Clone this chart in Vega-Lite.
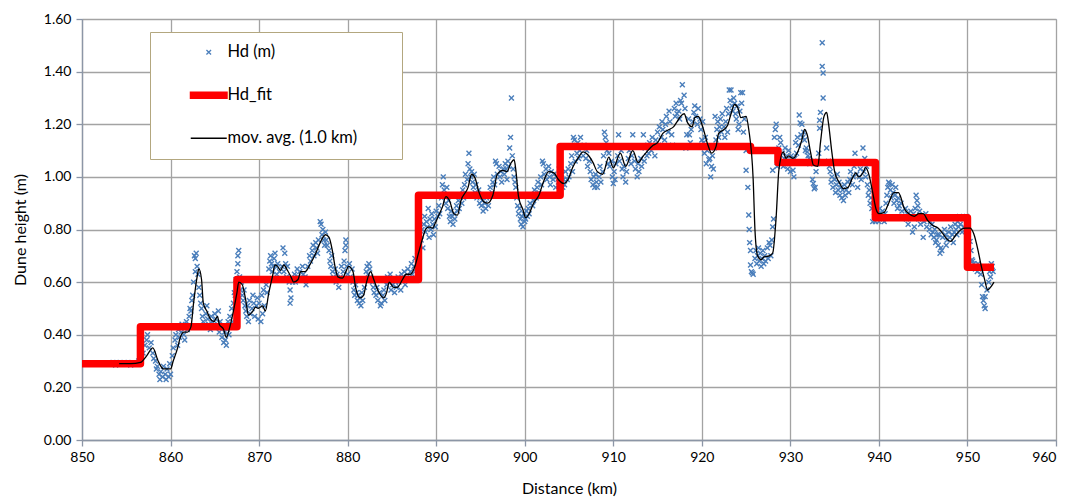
{
"$schema": "https://vega.github.io/schema/vega-lite/v6.json",
"width": 974, "height": 421,
"autosize": "none",
"padding": {"left": 82, "top": 19, "right": 16, "bottom": 59},
"background": "white",
"config": {
  "font": "Lato",
  "view": {"stroke": "#8ea9d6", "strokeWidth": 1},
  "point": {"shape": "M-1,-1L1,1M1,-1L-1,1"},
  "axis": {"labelFont": "Lato", "titleFont": "Lato", "labelFontSize": 14, "titleFontSize": 16, "titleFontWeight": "normal", "labelColor": "#000", "titleColor": "#000", "gridColor": "#a3a3a3", "gridWidth": 1.3, "domainColor": "#8c96a6", "tickColor": "#8c96a6", "tickSize": 6, "domainWidth": 1.3, "tickWidth": 1.3}
},
"datasets": {
"fit": [
{"d":850,"h":0.29},{"d":856.6,"h":0.29},{"d":856.6,"h":0.43},{"d":867.5,"h":0.43},{"d":867.5,"h":0.61},{"d":888.0,"h":0.61},{"d":888.0,"h":0.93},{"d":904.0,"h":0.93},{"d":904.0,"h":1.115},{"d":925.5,"h":1.115},{"d":925.5,"h":1.10},{"d":928.6,"h":1.10},{"d":928.6,"h":1.055},{"d":939.6,"h":1.055},{"d":939.6,"h":0.845},{"d":950.0,"h":0.845},{"d":950.0,"h":0.657},{"d":953.0,"h":0.657}
],
"ma": [
{"d":854.2,"h":0.29},{"d":855.5,"h":0.29},{"d":856.6,"h":0.295},{"d":857.3,"h":0.32},{"d":858.0,"h":0.35},{"d":858.6,"h":0.30},{"d":859.2,"h":0.27},{"d":860.0,"h":0.27},{"d":860.3,"h":0.30},{"d":860.8,"h":0.35},{"d":861.1,"h":0.39},{"d":861.5,"h":0.41},{"d":861.9,"h":0.41},{"d":862.3,"h":0.43},{"d":862.6,"h":0.52},{"d":863.0,"h":0.62},{"d":863.2,"h":0.65},{"d":863.5,"h":0.61},{"d":863.7,"h":0.52},{"d":864.1,"h":0.49},{"d":864.5,"h":0.46},{"d":864.9,"h":0.45},{"d":865.3,"h":0.47},{"d":865.5,"h":0.44},{"d":866.0,"h":0.42},{"d":866.3,"h":0.39},{"d":866.7,"h":0.43},{"d":867.1,"h":0.49},{"d":867.5,"h":0.56},{"d":867.7,"h":0.60},{"d":868.1,"h":0.59},{"d":868.5,"h":0.53},{"d":868.8,"h":0.475},{"d":869.3,"h":0.49},{"d":869.6,"h":0.505},{"d":869.9,"h":0.50},{"d":870.4,"h":0.51},{"d":870.7,"h":0.49},{"d":871.1,"h":0.56},{"d":871.5,"h":0.62},{"d":871.8,"h":0.665},{"d":872.1,"h":0.66},{"d":872.4,"h":0.645},{"d":872.8,"h":0.665},{"d":873.2,"h":0.645},{"d":873.6,"h":0.62},{"d":873.9,"h":0.60},{"d":874.4,"h":0.61},{"d":874.7,"h":0.64},{"d":875.2,"h":0.64},{"d":875.8,"h":0.67},{"d":876.4,"h":0.71},{"d":876.9,"h":0.75},{"d":877.5,"h":0.78},{"d":877.9,"h":0.77},{"d":878.3,"h":0.715},{"d":878.6,"h":0.655},{"d":878.9,"h":0.62},{"d":879.4,"h":0.615},{"d":879.8,"h":0.64},{"d":880.1,"h":0.66},{"d":880.6,"h":0.64},{"d":880.9,"h":0.58},{"d":881.4,"h":0.54},{"d":881.8,"h":0.55},{"d":882.1,"h":0.595},{"d":882.6,"h":0.64},{"d":882.9,"h":0.615},{"d":883.4,"h":0.57},{"d":884.1,"h":0.54},{"d":884.4,"h":0.56},{"d":884.7,"h":0.60},{"d":885.2,"h":0.58},{"d":885.6,"h":0.58},{"d":886.2,"h":0.61},{"d":886.6,"h":0.63},{"d":887.1,"h":0.63},{"d":887.6,"h":0.66},{"d":888.0,"h":0.71},{"d":888.5,"h":0.77},{"d":888.8,"h":0.80},{"d":889.2,"h":0.81},{"d":889.6,"h":0.805},{"d":889.9,"h":0.825},{"d":890.3,"h":0.855},{"d":890.7,"h":0.885},{"d":891.1,"h":0.925},{"d":891.5,"h":0.91},{"d":892.0,"h":0.86},{"d":892.4,"h":0.855},{"d":892.8,"h":0.91},{"d":893.6,"h":0.96},{"d":894.0,"h":1.01},{"d":894.4,"h":0.995},{"d":894.8,"h":0.945},{"d":895.4,"h":0.905},{"d":895.8,"h":0.90},{"d":896.4,"h":0.93},{"d":896.9,"h":1.01},{"d":897.5,"h":1.025},{"d":898.0,"h":1.02},{"d":898.4,"h":1.05},{"d":898.8,"h":1.065},{"d":899.0,"h":1.025},{"d":899.3,"h":0.925},{"d":899.8,"h":0.875},{"d":900.1,"h":0.845},{"d":900.5,"h":0.86},{"d":901.0,"h":0.90},{"d":901.6,"h":0.93},{"d":902.1,"h":0.98},{"d":902.7,"h":1.02},{"d":903.3,"h":1.015},{"d":903.8,"h":0.99},{"d":904.4,"h":0.975},{"d":904.9,"h":0.99},{"d":905.4,"h":1.035},{"d":906.0,"h":1.07},{"d":906.6,"h":1.095},{"d":907.1,"h":1.085},{"d":907.7,"h":1.055},{"d":908.2,"h":1.02},{"d":908.8,"h":1.01},{"d":909.5,"h":1.075},{"d":910.0,"h":1.035},{"d":910.8,"h":1.09},{"d":911.4,"h":1.04},{"d":912.2,"h":1.10},{"d":912.8,"h":1.055},{"d":913.4,"h":1.08},{"d":913.9,"h":1.10},{"d":914.5,"h":1.12},{"d":915.0,"h":1.13},{"d":915.6,"h":1.165},{"d":916.3,"h":1.18},{"d":916.8,"h":1.19},{"d":917.3,"h":1.215},{"d":917.6,"h":1.23},{"d":918.0,"h":1.24},{"d":918.4,"h":1.205},{"d":918.9,"h":1.19},{"d":919.2,"h":1.225},{"d":919.6,"h":1.23},{"d":920.1,"h":1.19},{"d":920.7,"h":1.12},{"d":921.1,"h":1.09},{"d":921.6,"h":1.115},{"d":921.9,"h":1.165},{"d":922.5,"h":1.18},{"d":922.9,"h":1.195},{"d":923.3,"h":1.24},{"d":923.7,"h":1.275},{"d":924.1,"h":1.26},{"d":924.4,"h":1.225},{"d":925.0,"h":1.23},{"d":925.3,"h":1.18},{"d":925.8,"h":0.99},{"d":926.0,"h":0.80},{"d":926.3,"h":0.70},{"d":926.7,"h":0.685},{"d":927.0,"h":0.695},{"d":927.6,"h":0.70},{"d":928.0,"h":0.71},{"d":928.4,"h":0.85},{"d":928.7,"h":1.025},{"d":929.2,"h":1.095},{"d":929.5,"h":1.07},{"d":929.8,"h":1.08},{"d":930.3,"h":1.07},{"d":930.6,"h":1.08},{"d":930.9,"h":1.10},{"d":931.3,"h":1.14},{"d":931.6,"h":1.18},{"d":931.9,"h":1.16},{"d":932.3,"h":1.09},{"d":932.6,"h":1.045},{"d":933.1,"h":1.04},{"d":933.4,"h":1.13},{"d":933.8,"h":1.23},{"d":934.1,"h":1.245},{"d":934.3,"h":1.205},{"d":934.7,"h":1.09},{"d":935.0,"h":1.02},{"d":935.5,"h":0.98},{"d":936.0,"h":0.955},{"d":936.5,"h":0.96},{"d":937.0,"h":0.995},{"d":937.4,"h":1.015},{"d":937.7,"h":1.00},{"d":938.2,"h":1.015},{"d":938.5,"h":1.035},{"d":938.9,"h":1.005},{"d":939.3,"h":0.94},{"d":939.7,"h":0.875},{"d":940.0,"h":0.86},{"d":940.6,"h":0.865},{"d":941.1,"h":0.90},{"d":941.7,"h":0.94},{"d":942.2,"h":0.94},{"d":942.5,"h":0.92},{"d":942.8,"h":0.885},{"d":943.4,"h":0.86},{"d":944.0,"h":0.85},{"d":944.5,"h":0.86},{"d":945.0,"h":0.86},{"d":945.5,"h":0.835},{"d":946.1,"h":0.815},{"d":946.7,"h":0.805},{"d":947.2,"h":0.785},{"d":947.8,"h":0.76},{"d":948.1,"h":0.755},{"d":948.7,"h":0.78},{"d":949.3,"h":0.80},{"d":949.8,"h":0.805},{"d":950.3,"h":0.805},{"d":950.7,"h":0.785},{"d":951.2,"h":0.72},{"d":951.5,"h":0.67},{"d":951.9,"h":0.615},{"d":952.3,"h":0.57},{"d":952.6,"h":0.58},{"d":953.0,"h":0.60}
],
"pts": [
{"d":853.2,"h":0.29},{"d":853.5,"h":0.295},{"d":853.8,"h":0.285},{"d":854.0,"h":0.29},{"d":854.3,"h":0.295},{"d":854.6,"h":0.29},{"d":854.9,"h":0.29},{"d":855.2,"h":0.295},{"d":855.5,"h":0.285},{"d":855.8,"h":0.29},{"d":856.1,"h":0.29},{"d":856.4,"h":0.30},{"d":856.7,"h":0.31},{"d":856.9,"h":0.33},
{"d":857.1,"h":0.36},{"d":857.3,"h":0.38},{"d":857.4,"h":0.40},{"d":857.6,"h":0.35},{"d":857.8,"h":0.37},{"d":858.0,"h":0.33},{"d":858.1,"h":0.31},{"d":858.3,"h":0.30},{"d":858.4,"h":0.27},{"d":858.5,"h":0.28},{"d":858.7,"h":0.25},{"d":858.8,"h":0.23},{"d":858.9,"h":0.26},{"d":859.1,"h":0.24},{"d":859.2,"h":0.28},{"d":859.4,"h":0.25},{"d":859.5,"h":0.23},{"d":859.6,"h":0.27},{"d":859.8,"h":0.24},{"d":859.9,"h":0.29},{"d":860.0,"h":0.25},
{"d":860.2,"h":0.32},{"d":860.3,"h":0.35},{"d":860.5,"h":0.38},{"d":860.6,"h":0.40},{"d":860.8,"h":0.36},{"d":860.9,"h":0.42},{"d":861.0,"h":0.39},{"d":861.2,"h":0.41},{"d":861.3,"h":0.44},{"d":861.5,"h":0.40},{"d":861.6,"h":0.38},{"d":861.8,"h":0.45},{"d":861.9,"h":0.42},{"d":862.1,"h":0.47},{"d":862.2,"h":0.50},{"d":862.3,"h":0.49},{"d":862.4,"h":0.53},{"d":862.5,"h":0.55},
{"d":862.6,"h":0.60},{"d":862.7,"h":0.70},{"d":862.8,"h":0.69},{"d":862.9,"h":0.71},{"d":863.0,"h":0.66},{"d":863.1,"h":0.63},{"d":863.2,"h":0.58},{"d":863.3,"h":0.55},{"d":863.4,"h":0.52},{"d":862.8,"h":0.64},
{"d":863.5,"h":0.50},{"d":863.6,"h":0.47},{"d":863.7,"h":0.45},{"d":863.8,"h":0.43},{"d":864.0,"h":0.48},{"d":864.1,"h":0.51},{"d":864.2,"h":0.46},{"d":864.3,"h":0.44},{"d":864.5,"h":0.42},{"d":864.6,"h":0.47},{"d":864.7,"h":0.45},{"d":864.9,"h":0.43},{"d":865.0,"h":0.48},{"d":865.1,"h":0.46},{"d":865.3,"h":0.44},{"d":865.4,"h":0.49},{"d":865.5,"h":0.41},{"d":865.6,"h":0.45},{"d":865.8,"h":0.39},{"d":865.9,"h":0.43},{"d":866.0,"h":0.37},{"d":866.1,"h":0.41},{"d":866.2,"h":0.38},{"d":866.3,"h":0.36},{"d":866.4,"h":0.42},{"d":866.5,"h":0.45},{"d":866.6,"h":0.40},{"d":866.7,"h":0.47},{"d":866.9,"h":0.50},{"d":867.0,"h":0.45},
{"d":867.1,"h":0.52},{"d":867.2,"h":0.56},{"d":867.3,"h":0.55},{"d":867.4,"h":0.61},{"d":867.5,"h":0.64},{"d":867.6,"h":0.70},{"d":867.7,"h":0.72},{"d":867.8,"h":0.62},{"d":867.9,"h":0.57},{"d":868.0,"h":0.60},{"d":868.1,"h":0.55},{"d":868.2,"h":0.53},{"d":868.3,"h":0.57},{"d":867.6,"h":0.67},
{"d":868.4,"h":0.51},{"d":868.5,"h":0.49},{"d":868.6,"h":0.47},{"d":868.7,"h":0.51},{"d":868.8,"h":0.45},{"d":868.9,"h":0.53},{"d":869.0,"h":0.48},{"d":869.2,"h":0.50},{"d":869.3,"h":0.55},{"d":869.4,"h":0.52},{"d":869.5,"h":0.47},{"d":869.7,"h":0.51},{"d":869.8,"h":0.54},{"d":869.9,"h":0.46},{"d":870.0,"h":0.52},{"d":870.2,"h":0.45},{"d":870.3,"h":0.55},{"d":870.4,"h":0.48},{"d":870.5,"h":0.57},{"d":870.6,"h":0.51},{"d":870.8,"h":0.59},{"d":870.9,"h":0.56},
{"d":871.0,"h":0.61},{"d":871.1,"h":0.65},{"d":871.2,"h":0.68},{"d":871.3,"h":0.70},{"d":871.4,"h":0.67},{"d":871.5,"h":0.64},{"d":871.6,"h":0.66},{"d":871.7,"h":0.69},{"d":871.8,"h":0.71},{"d":871.9,"h":0.66},{"d":872.0,"h":0.63},{"d":872.1,"h":0.67},{"d":872.3,"h":0.64},{"d":872.4,"h":0.61},{"d":872.6,"h":0.66},{"d":872.7,"h":0.73},{"d":872.8,"h":0.64},{"d":872.9,"h":0.71},{"d":873.0,"h":0.67},{"d":873.1,"h":0.62},{"d":873.2,"h":0.66},{"d":873.4,"h":0.60},{"d":873.5,"h":0.52},{"d":873.6,"h":0.54},{"d":873.5,"h":0.57},
{"d":873.8,"h":0.60},{"d":874.0,"h":0.63},{"d":874.1,"h":0.60},{"d":874.3,"h":0.65},{"d":874.4,"h":0.62},{"d":874.6,"h":0.64},{"d":874.7,"h":0.61},{"d":874.9,"h":0.66},{"d":875.0,"h":0.63},{"d":875.2,"h":0.62},{"d":875.3,"h":0.59},
{"d":875.5,"h":0.66},{"d":875.7,"h":0.70},{"d":875.8,"h":0.68},{"d":876.0,"h":0.72},{"d":876.1,"h":0.74},{"d":876.2,"h":0.70},{"d":876.4,"h":0.75},{"d":876.5,"h":0.73},{"d":876.6,"h":0.71},{"d":876.7,"h":0.76},{"d":876.9,"h":0.83},{"d":877.0,"h":0.82},{"d":877.1,"h":0.78},{"d":877.2,"h":0.80},{"d":877.3,"h":0.76},{"d":877.4,"h":0.74},{"d":877.5,"h":0.79},{"d":877.6,"h":0.76},{"d":877.7,"h":0.74},{"d":877.9,"h":0.72},
{"d":878.0,"h":0.68},{"d":878.1,"h":0.66},{"d":878.2,"h":0.70},{"d":878.3,"h":0.64},{"d":878.4,"h":0.62},{"d":878.6,"h":0.65},{"d":878.7,"h":0.60},{"d":878.8,"h":0.63},{"d":878.9,"h":0.61},{"d":879.0,"h":0.58},{"d":879.2,"h":0.62},{"d":879.3,"h":0.66},{"d":879.5,"h":0.64},{"d":879.6,"h":0.68},{"d":879.7,"h":0.72},{"d":879.8,"h":0.76},{"d":879.8,"h":0.74},{"d":879.9,"h":0.66},{"d":880.0,"h":0.63},{"d":880.2,"h":0.67},{"d":880.3,"h":0.62},{"d":880.5,"h":0.65},
{"d":880.6,"h":0.60},{"d":880.7,"h":0.57},{"d":880.8,"h":0.55},{"d":880.9,"h":0.59},{"d":881.0,"h":0.56},{"d":881.1,"h":0.53},{"d":881.2,"h":0.55},{"d":881.3,"h":0.52},{"d":881.4,"h":0.54},{"d":881.5,"h":0.51},{"d":881.6,"h":0.56},{"d":881.7,"h":0.53},{"d":881.9,"h":0.58},{"d":882.0,"h":0.61},{"d":882.1,"h":0.64},{"d":882.2,"h":0.66},{"d":882.3,"h":0.63},{"d":882.4,"h":0.67},{"d":882.5,"h":0.65},{"d":882.6,"h":0.62},
{"d":882.8,"h":0.60},{"d":882.9,"h":0.58},{"d":883.0,"h":0.56},{"d":883.2,"h":0.55},{"d":883.3,"h":0.58},{"d":883.4,"h":0.53},{"d":883.6,"h":0.56},{"d":883.7,"h":0.51},{"d":883.8,"h":0.52},{"d":884.0,"h":0.55},{"d":884.1,"h":0.57},{"d":884.2,"h":0.53},{"d":884.4,"h":0.59},{"d":884.5,"h":0.62},{"d":884.6,"h":0.60},{"d":884.8,"h":0.63},{"d":884.9,"h":0.57},{"d":885.0,"h":0.61},
{"d":885.1,"h":0.59},{"d":885.3,"h":0.56},{"d":885.4,"h":0.60},{"d":885.5,"h":0.58},{"d":885.7,"h":0.62},{"d":885.8,"h":0.60},{"d":886.0,"h":0.57},{"d":886.1,"h":0.63},{"d":886.3,"h":0.61},{"d":886.4,"h":0.64},{"d":886.5,"h":0.59},{"d":886.7,"h":0.62},{"d":886.8,"h":0.65},{"d":886.9,"h":0.61},{"d":887.1,"h":0.64},{"d":887.2,"h":0.67},{"d":887.3,"h":0.63},{"d":887.5,"h":0.66},{"d":887.6,"h":0.69},{"d":887.7,"h":0.65},{"d":887.9,"h":0.70},
{"d":888.1,"h":0.74},{"d":888.2,"h":0.78},{"d":888.3,"h":0.76},{"d":888.4,"h":0.80},{"d":888.5,"h":0.73},{"d":888.6,"h":0.82},{"d":888.7,"h":0.85},{"d":888.8,"h":0.79},{"d":888.9,"h":0.83},{"d":889.0,"h":0.81},{"d":889.1,"h":0.88},{"d":889.2,"h":0.77},{"d":889.3,"h":0.84},{"d":889.4,"h":0.80},{"d":889.5,"h":0.86},{"d":889.6,"h":0.82},{"d":889.7,"h":0.78},{"d":889.8,"h":0.84},{"d":889.9,"h":0.81},{"d":890.0,"h":0.87},{"d":890.2,"h":0.85},{"d":890.3,"h":0.89},{"d":890.4,"h":0.86},
{"d":890.6,"h":0.92},{"d":890.7,"h":0.97},{"d":890.8,"h":1.00},{"d":890.9,"h":0.95},{"d":891.0,"h":0.93},{"d":891.1,"h":0.90},{"d":891.2,"h":0.96},{"d":891.3,"h":0.88},{"d":891.4,"h":0.91},{"d":891.5,"h":0.85},{"d":891.6,"h":0.83},{"d":891.7,"h":0.87},{"d":891.8,"h":0.85},{"d":891.9,"h":0.82},{"d":892.0,"h":0.86},{"d":892.1,"h":0.84},{"d":892.3,"h":0.89},{"d":892.4,"h":0.87},{"d":892.5,"h":0.91},{"d":892.6,"h":0.88},{"d":892.8,"h":0.93},{"d":892.9,"h":0.90},
{"d":893.0,"h":0.95},{"d":893.1,"h":0.92},{"d":893.2,"h":0.97},{"d":893.3,"h":1.01},{"d":893.5,"h":0.99},{"d":893.6,"h":1.05},{"d":893.7,"h":1.09},{"d":893.8,"h":1.03},{"d":893.9,"h":1.00},{"d":894.0,"h":1.02},{"d":894.1,"h":0.98},{"d":894.2,"h":0.96},{"d":894.3,"h":1.01},{"d":894.4,"h":0.94},{"d":894.5,"h":0.97},{"d":894.6,"h":0.92},{"d":894.8,"h":0.95},{"d":894.9,"h":0.90},{"d":895.0,"h":0.93},
{"d":895.1,"h":0.89},{"d":895.2,"h":0.91},{"d":895.3,"h":0.87},{"d":895.5,"h":0.90},{"d":895.6,"h":0.88},{"d":895.7,"h":0.92},{"d":895.9,"h":0.89},{"d":896.0,"h":0.93},{"d":896.1,"h":0.96},{"d":896.3,"h":0.94},{"d":896.4,"h":0.98},{"d":896.5,"h":1.00},{"d":896.6,"h":0.97},{"d":896.7,"h":1.06},{"d":896.8,"h":1.05},{"d":896.9,"h":1.01},{"d":897.1,"h":1.04},{"d":897.2,"h":1.00},{"d":897.3,"h":1.02},{"d":897.4,"h":0.98},{"d":897.6,"h":1.03},{"d":897.7,"h":1.01},{"d":897.8,"h":1.05},{"d":897.9,"h":1.03},{"d":898.0,"h":0.99},{"d":898.1,"h":1.06},{"d":898.2,"h":1.04},{"d":898.3,"h":1.11},{"d":898.4,"h":1.15},{"d":898.5,"h":1.30},{"d":898.6,"h":1.08},{"d":898.7,"h":1.03},{"d":898.8,"h":1.00},{"d":898.9,"h":0.98},
{"d":899.0,"h":0.96},{"d":899.1,"h":0.92},{"d":899.2,"h":0.89},{"d":899.3,"h":0.86},{"d":899.4,"h":0.88},{"d":899.5,"h":0.84},{"d":899.6,"h":0.82},{"d":899.7,"h":0.85},{"d":899.8,"h":0.81},{"d":899.9,"h":0.86},{"d":900.0,"h":0.83},{"d":900.1,"h":0.84},{"d":900.2,"h":0.87},{"d":900.3,"h":0.85},{"d":900.4,"h":0.88},{"d":900.5,"h":0.86},
{"d":900.6,"h":0.90},{"d":900.8,"h":0.93},{"d":900.9,"h":0.89},{"d":901.0,"h":0.91},{"d":901.1,"h":0.95},{"d":901.3,"h":0.92},{"d":901.4,"h":0.96},{"d":901.5,"h":0.98},{"d":901.6,"h":0.94},{"d":901.8,"h":1.00},{"d":901.9,"h":0.97},{"d":902.0,"h":1.06},{"d":902.1,"h":1.05},{"d":902.2,"h":1.01},{"d":902.4,"h":1.03},{"d":902.5,"h":0.99},{"d":902.7,"h":1.04},{"d":902.8,"h":1.00},{"d":902.9,"h":0.97},{"d":903.0,"h":1.02},{"d":903.2,"h":0.99},{"d":903.3,"h":1.01},{"d":903.5,"h":0.96},{"d":903.6,"h":1.00},{"d":903.8,"h":0.98},{"d":903.9,"h":1.03},
{"d":904.0,"h":0.95},{"d":904.1,"h":0.98},{"d":904.2,"h":1.01},{"d":904.3,"h":0.96},{"d":904.4,"h":0.99},{"d":904.5,"h":0.97},{"d":904.6,"h":1.02},{"d":904.8,"h":0.99},{"d":904.9,"h":1.03},{"d":905.0,"h":1.00},{"d":905.2,"h":1.05},{"d":905.3,"h":1.08},{"d":905.4,"h":1.02},{"d":905.5,"h":1.15},{"d":905.6,"h":1.14},{"d":905.7,"h":1.06},{"d":905.8,"h":1.12},{"d":905.9,"h":1.09},{"d":906.0,"h":1.13},{"d":906.1,"h":1.07},{"d":906.2,"h":1.10},{"d":906.3,"h":1.15},{"d":906.5,"h":1.11},{"d":906.6,"h":1.08},{"d":906.7,"h":1.12},{"d":906.9,"h":1.07},{"d":907.0,"h":1.10},{"d":907.1,"h":1.04},{"d":907.3,"h":1.06},{"d":907.4,"h":1.02},{"d":907.5,"h":0.99},{"d":907.7,"h":0.97},{"d":907.8,"h":1.00},{"d":907.9,"h":0.96},
{"d":908.0,"h":1.01},{"d":908.1,"h":0.98},{"d":908.2,"h":0.96},{"d":908.4,"h":1.00},{"d":908.5,"h":1.04},{"d":908.6,"h":0.98},{"d":908.8,"h":1.02},{"d":908.9,"h":1.08},{"d":909.0,"h":1.17},{"d":909.1,"h":1.15},{"d":909.2,"h":1.13},{"d":909.3,"h":1.10},{"d":909.4,"h":1.05},{"d":909.5,"h":1.09},{"d":909.6,"h":1.04},{"d":909.8,"h":1.06},{"d":909.9,"h":1.00},{"d":910.0,"h":0.975},{"d":910.1,"h":1.02},{"d":910.2,"h":0.99},{"d":910.3,"h":1.05},{"d":910.5,"h":1.08},{"d":910.6,"h":1.16},{"d":910.7,"h":1.06},{"d":910.9,"h":1.10},{"d":911.0,"h":1.03},{"d":911.1,"h":1.00},{"d":911.2,"h":1.04},{"d":911.4,"h":0.98},{"d":911.5,"h":1.02},{"d":911.7,"h":1.07},{"d":911.8,"h":1.10},{"d":912.0,"h":1.05},{"d":912.1,"h":1.08},{"d":912.2,"h":1.16},{"d":912.4,"h":1.06},{"d":912.5,"h":1.03},{"d":912.7,"h":1.00},{"d":912.8,"h":1.05},{"d":912.9,"h":1.02},{"d":913.1,"h":1.07},{"d":913.2,"h":1.04},{"d":913.4,"h":1.16},{"d":913.5,"h":1.06},{"d":913.6,"h":1.11},{"d":913.8,"h":1.08},{"d":913.9,"h":1.12},
{"d":914.0,"h":1.09},{"d":914.1,"h":1.13},{"d":914.3,"h":1.10},{"d":914.4,"h":1.15},{"d":914.5,"h":1.12},{"d":914.7,"h":1.08},{"d":914.8,"h":1.14},{"d":915.0,"h":1.17},{"d":915.1,"h":1.12},{"d":915.2,"h":1.19},{"d":915.4,"h":1.15},{"d":915.5,"h":1.21},{"d":915.6,"h":1.18},{"d":915.8,"h":1.14},{"d":915.9,"h":1.20},{"d":916.0,"h":1.23},{"d":916.2,"h":1.17},{"d":916.3,"h":1.25},{"d":916.4,"h":1.21},{"d":916.6,"h":1.16},{"d":916.7,"h":1.12},{"d":916.9,"h":1.26},{"d":917.0,"h":1.23},{"d":917.1,"h":1.28},{"d":917.2,"h":1.24},{"d":917.4,"h":1.25},{"d":917.5,"h":1.22},{"d":917.6,"h":1.29},{"d":917.7,"h":1.28},{"d":917.8,"h":1.35},{"d":918.0,"h":1.31},{"d":918.1,"h":1.26},{"d":918.2,"h":1.11},{"d":918.3,"h":1.16},{"d":918.5,"h":1.22},{"d":918.6,"h":1.16},{"d":918.7,"h":1.13},{"d":918.8,"h":1.18},{"d":919.0,"h":1.21},{"d":919.1,"h":1.245},{"d":919.2,"h":1.27},{"d":919.3,"h":1.23},{"d":919.5,"h":1.20},{"d":919.6,"h":1.26},{"d":919.8,"h":1.22},{"d":919.9,"h":1.18},{"d":920.0,"h":1.14},{"d":920.1,"h":1.21},
{"d":920.2,"h":1.13},{"d":920.3,"h":1.09},{"d":920.4,"h":1.15},{"d":920.5,"h":1.05},{"d":920.6,"h":1.10},{"d":920.8,"h":1.065},{"d":920.9,"h":1.07},{"d":921.0,"h":1.00},{"d":921.1,"h":1.04},{"d":921.2,"h":1.08},{"d":921.3,"h":1.03},{"d":921.4,"h":1.11},{"d":921.5,"h":1.23},{"d":921.6,"h":1.14},{"d":921.7,"h":1.18},{"d":921.8,"h":1.21},{"d":921.9,"h":1.15},{"d":922.0,"h":1.19},{"d":922.1,"h":1.22},
{"d":922.2,"h":1.17},{"d":922.3,"h":1.24},{"d":922.5,"h":1.19},{"d":922.6,"h":1.15},{"d":922.7,"h":1.21},{"d":922.8,"h":1.26},{"d":922.9,"h":1.17},{"d":923.0,"h":1.24},{"d":923.1,"h":1.33},{"d":923.2,"h":1.29},{"d":923.3,"h":1.33},{"d":923.4,"h":1.27},{"d":923.5,"h":1.25},{"d":923.6,"h":1.30},{"d":923.7,"h":1.28},{"d":923.8,"h":1.24},{"d":923.9,"h":1.22},{"d":924.0,"h":1.27},{"d":924.1,"h":1.18},{"d":924.2,"h":1.20},{"d":924.3,"h":1.25},{"d":924.4,"h":1.32},{"d":924.5,"h":1.28},{"d":924.6,"h":1.32},{"d":924.7,"h":1.17},{"d":924.8,"h":1.22},
{"d":925.0,"h":1.10},{"d":925.0,"h":1.025},{"d":925.2,"h":0.96},{"d":925.3,"h":0.855},{"d":925.35,"h":0.80},{"d":925.4,"h":0.75},{"d":925.5,"h":0.72},{"d":925.5,"h":0.665},{"d":925.7,"h":0.635},{"d":925.8,"h":0.63},{"d":925.6,"h":0.64},
{"d":926.0,"h":0.69},{"d":926.1,"h":0.72},{"d":926.2,"h":0.67},{"d":926.3,"h":0.70},{"d":926.4,"h":0.73},{"d":926.5,"h":0.68},{"d":926.6,"h":0.71},{"d":926.7,"h":0.66},{"d":926.8,"h":0.69},{"d":926.9,"h":0.72},{"d":927.0,"h":0.67},{"d":927.1,"h":0.70},{"d":927.2,"h":0.68},{"d":927.4,"h":0.73},{"d":927.5,"h":0.69},{"d":927.6,"h":0.75},{"d":927.7,"h":0.74},{"d":927.8,"h":0.70},{"d":927.9,"h":0.76},{"d":928.0,"h":0.81},{"d":928.0,"h":1.025},
{"d":928.1,"h":0.84},{"d":928.2,"h":1.15},{"d":928.3,"h":1.18},{"d":928.4,"h":1.20},{"d":928.5,"h":1.04},{"d":928.6,"h":1.08},{"d":928.7,"h":1.11},{"d":928.8,"h":1.15},{"d":928.9,"h":1.13},{"d":929.0,"h":1.06},
{"d":929.1,"h":1.09},{"d":929.2,"h":1.04},{"d":929.3,"h":1.07},{"d":929.4,"h":1.11},{"d":929.5,"h":1.05},{"d":929.6,"h":1.08},{"d":929.7,"h":1.03},{"d":929.8,"h":1.10},{"d":929.9,"h":1.06},{"d":930.0,"h":1.02},{"d":930.1,"h":1.08},{"d":930.3,"h":1.025},{"d":930.4,"h":1.00},{"d":930.5,"h":1.07},{"d":930.6,"h":1.13},{"d":930.7,"h":1.09},{"d":930.8,"h":1.15},{"d":930.9,"h":1.12},{"d":931.0,"h":1.235},{"d":931.1,"h":1.205},{"d":931.2,"h":1.16},{"d":931.3,"h":1.20},{"d":931.4,"h":1.15},{"d":931.5,"h":1.17},{"d":931.6,"h":1.14},{"d":931.7,"h":1.10},{"d":931.8,"h":1.11},{"d":931.9,"h":1.095},{"d":932.0,"h":1.08},{"d":932.1,"h":1.07},{"d":932.2,"h":1.05},{"d":932.3,"h":1.06},
{"d":932.5,"h":0.99},{"d":932.6,"h":0.975},{"d":932.7,"h":0.955},{"d":932.8,"h":0.96},{"d":932.9,"h":1.02},{"d":933.0,"h":1.05},
{"d":933.1,"h":1.06},{"d":933.2,"h":1.09},{"d":933.3,"h":1.185},{"d":933.3,"h":1.215},{"d":933.4,"h":1.245},{"d":933.6,"h":1.51},{"d":933.6,"h":1.42},{"d":933.7,"h":1.395},{"d":933.7,"h":1.30},{"d":934.1,"h":1.11},{"d":934.3,"h":1.06},{"d":934.4,"h":1.04},
{"d":934.5,"h":1.02},{"d":934.6,"h":0.98},{"d":934.7,"h":1.00},{"d":934.8,"h":0.96},{"d":935.0,"h":0.99},{"d":935.1,"h":0.94},{"d":935.2,"h":0.97},{"d":935.3,"h":1.01},{"d":935.4,"h":0.95},{"d":935.5,"h":0.98},{"d":935.6,"h":0.93},{"d":935.7,"h":0.96},{"d":935.8,"h":0.92},{"d":935.9,"h":0.95},{"d":936.0,"h":0.91},{"d":936.1,"h":0.97},{"d":936.2,"h":0.93},{"d":936.3,"h":0.95},{"d":936.5,"h":0.98},{"d":936.6,"h":0.94},
{"d":936.7,"h":0.99},{"d":936.8,"h":1.02},{"d":937.0,"h":0.97},{"d":937.1,"h":1.00},{"d":937.2,"h":1.04},{"d":937.3,"h":1.09},{"d":937.5,"h":1.01},{"d":937.6,"h":0.96},{"d":937.8,"h":1.00},{"d":937.9,"h":1.03},{"d":938.0,"h":0.99},{"d":938.1,"h":1.05},{"d":938.2,"h":1.11},{"d":938.3,"h":1.02},{"d":938.4,"h":1.07},{"d":938.5,"h":1.00},{"d":938.6,"h":1.04},{"d":938.7,"h":0.97},{"d":938.8,"h":0.93},{"d":938.9,"h":0.95},
{"d":939.0,"h":0.90},{"d":939.1,"h":0.92},{"d":939.2,"h":0.88},{"d":939.3,"h":0.83},{"d":939.4,"h":0.89},{"d":939.5,"h":0.85},{"d":939.6,"h":0.83},{"d":939.7,"h":0.87},{"d":939.8,"h":0.84},{"d":939.9,"h":0.86},{"d":940.0,"h":0.83},{"d":940.1,"h":0.88},{"d":940.2,"h":0.85},{"d":940.4,"h":0.87},{"d":940.5,"h":0.84},
{"d":940.6,"h":0.83},{"d":940.7,"h":0.86},{"d":940.8,"h":0.90},{"d":940.9,"h":0.93},{"d":941.0,"h":0.96},{"d":941.1,"h":0.98},{"d":941.2,"h":0.975},{"d":941.3,"h":0.95},{"d":941.4,"h":0.92},{"d":941.5,"h":0.97},{"d":941.6,"h":0.94},{"d":941.7,"h":0.90},{"d":941.8,"h":0.93},{"d":941.9,"h":0.96},{"d":942.0,"h":0.91},{"d":942.1,"h":0.88},{"d":942.2,"h":0.92},{"d":942.3,"h":0.89},{"d":942.5,"h":0.90},{"d":942.6,"h":0.87},{"d":942.8,"h":0.85},
{"d":943.0,"h":0.88},{"d":943.1,"h":0.84},{"d":943.2,"h":0.86},{"d":943.3,"h":0.82},{"d":943.5,"h":0.85},{"d":943.6,"h":0.87},{"d":943.8,"h":0.79},{"d":943.9,"h":0.86},{"d":944.0,"h":0.81},{"d":944.1,"h":0.88},{"d":944.2,"h":0.93},{"d":944.3,"h":0.91},{"d":944.4,"h":0.89},{"d":944.5,"h":0.84},{"d":944.6,"h":0.87},{"d":944.7,"h":0.82},{"d":944.9,"h":0.85},{"d":945.0,"h":0.77},{"d":945.1,"h":0.83},{"d":945.3,"h":0.86},{"d":945.4,"h":0.81},{"d":945.5,"h":0.84},{"d":945.7,"h":0.80},{"d":945.8,"h":0.83},{"d":945.9,"h":0.78},
{"d":946.0,"h":0.82},{"d":946.1,"h":0.79},{"d":946.2,"h":0.77},{"d":946.3,"h":0.80},{"d":946.4,"h":0.75},{"d":946.5,"h":0.76},{"d":946.6,"h":0.78},{"d":946.7,"h":0.74},{"d":946.8,"h":0.78},{"d":946.9,"h":0.71},{"d":947.0,"h":0.73},{"d":947.1,"h":0.72},{"d":947.2,"h":0.77},{"d":947.4,"h":0.80},{"d":947.5,"h":0.78},{"d":947.6,"h":0.74},{"d":947.7,"h":0.76},{"d":947.9,"h":0.79},{"d":948.0,"h":0.77},{"d":948.1,"h":0.81},{"d":948.3,"h":0.78},{"d":948.4,"h":0.75},
{"d":948.5,"h":0.79},{"d":948.6,"h":0.82},{"d":948.7,"h":0.80},{"d":948.8,"h":0.78},{"d":948.9,"h":0.83},{"d":949.0,"h":0.81},{"d":949.1,"h":0.85},{"d":949.2,"h":0.82},{"d":949.4,"h":0.79},{"d":949.5,"h":0.84},{"d":949.6,"h":0.81},{"d":949.7,"h":0.845},{"d":949.8,"h":0.80},{"d":949.9,"h":0.85},{"d":950.0,"h":0.83},{"d":950.1,"h":0.78},
{"d":950.3,"h":0.755},{"d":950.4,"h":0.72},{"d":950.5,"h":0.685},{"d":950.6,"h":0.68},{"d":950.7,"h":0.67},{"d":950.8,"h":0.66},{"d":950.9,"h":0.65},{"d":951.0,"h":0.66},{"d":951.1,"h":0.64},{"d":951.2,"h":0.67},{"d":951.3,"h":0.65},{"d":951.5,"h":0.63},{"d":951.6,"h":0.59},{"d":951.7,"h":0.545},{"d":951.8,"h":0.53},{"d":951.9,"h":0.51},{"d":952.0,"h":0.50},{"d":952.0,"h":0.545},{"d":952.2,"h":0.57},{"d":952.4,"h":0.60},{"d":952.5,"h":0.64},{"d":952.6,"h":0.66},{"d":952.7,"h":0.67},{"d":952.8,"h":0.66},{"d":952.9,"h":0.64},{"d":952.6,"h":0.62}
]
},
"encoding": {
  "x": {"field": "d", "type": "quantitative", "scale": {"domain": [850, 960], "nice": false, "zero": false}, "axis": {"title": "Distance (km)", "values": [850,860,870,880,890,900,910,920,930,940,950,960], "format": "d", "labelPadding": 4, "titlePadding": 16, "labelFlush": false, "labelAlign": {"expr": "datum.value === 960 ? 'right' : 'center'"}}},
  "y": {"field": "h", "type": "quantitative", "scale": {"domain": [0, 1.6], "nice": false, "zero": true}, "axis": {"title": "Dune height (m)", "values": [0,0.2,0.4,0.6,0.8,1.0,1.2,1.4,1.6], "format": ".2f", "labelPadding": 5, "titlePadding": 15}}
},
"layer": [
  {"data": {"name": "pts"}, "mark": {"type": "point", "filled": false, "size": 24, "strokeWidth": 1.4, "opacity": 1},
   "encoding": {"color": {"datum": "Hd (m)", "type": "nominal",
      "scale": {"domain": ["Hd (m)", "Hd_fit", "mov. avg. (1.0 km)"], "range": ["#4a7ebb", "#ff0000", "#000000"]},
      "legend": {"title": " ", "titleOrient": "right", "titlePadding": 33, "titleFontSize": 15, "titleFont": "Lato",
        "orient": "none", "legendX": 68, "legendY": 13, "padding": 12, "rowPadding": 19, "symbolSize": 400, "symbolOffset": 38.5, "labelOffset": 10.5,
        "labelFont": "Lato", "labelFontSize": 16.5, "labelColor": "#000000", "strokeColor": "#b3a77f", "fillColor": "#ffffff", "symbolFillColor": "transparent",
        "symbolType": {"expr": "datum.value === 'Hd (m)' ? 'M-0.23,-0.23L0.23,0.23M0.23,-0.23L-0.23,0.23' : (datum.value === 'Hd_fit' ? 'M-1.9,0L1.9,0' : 'M-1.8,0L1.8,0')"},
        "symbolStrokeWidth": {"expr": "datum.value === 'Hd_fit' ? 7.5 : 1.3"}
      }}}},
  {"data": {"name": "fit"}, "mark": {"type": "line", "strokeWidth": 7.5, "strokeJoin": "round", "strokeCap": "butt"},
   "encoding": {"order": {"value": null}, "color": {"datum": "Hd_fit", "type": "nominal"}}},
  {"data": {"name": "ma"}, "mark": {"type": "line", "strokeWidth": 1.3, "interpolate": "monotone"},
   "encoding": {"color": {"datum": "mov. avg. (1.0 km)", "type": "nominal"}}}
]
}
